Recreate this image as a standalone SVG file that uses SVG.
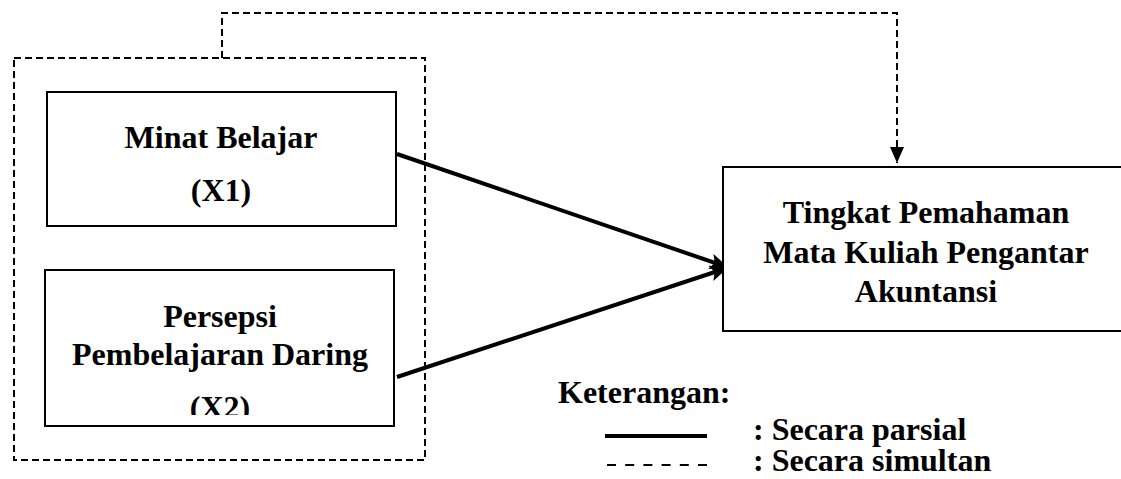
<svg xmlns="http://www.w3.org/2000/svg" width="1121" height="479" viewBox="0 0 1121 479">
<style>
.t{font-family:"Liberation Serif","Times New Roman",serif;font-weight:bold;font-size:32px;fill:#000}
.m{text-anchor:middle}
.box{fill:#fff;stroke:#000;stroke-width:2}
.dash{fill:none;stroke:#000;stroke-width:2;stroke-dasharray:7 4}
.solid{fill:none;stroke:#000;stroke-width:4}
</style>
<defs>
<marker id="ah" markerUnits="userSpaceOnUse" markerWidth="18" markerHeight="16" refX="17" refY="8" orient="auto"><path d="M0,0 L18,8 L0,16 L4,8 z" fill="#000"/></marker>
<marker id="ahd" markerUnits="userSpaceOnUse" markerWidth="16" markerHeight="14" refX="16" refY="7" orient="auto"><path d="M0,0 L16,7 L0,14 z" fill="#000"/></marker>
<clipPath id="clipx2"><rect x="45" y="270" width="349" height="145"/></clipPath>
</defs>
<g id="group-simultan">
<rect x="14" y="58" width="411" height="402" class="dash"/>
</g>
<g id="connectors">
<path d="M222,58 V13 H897 V163" class="dash" marker-end="url(#ahd)"/>
<line x1="397" y1="154" x2="727" y2="267" class="solid" marker-end="url(#ah)"/>
<line x1="397" y1="377" x2="727" y2="268" class="solid" marker-end="url(#ah)"/>
</g>
<g id="node-x1">
<rect x="47" y="92" width="349" height="134" class="box"/>
<text class="t m" x="221" y="148">Minat Belajar</text>
<text class="t m" x="221" y="201">(X1)</text>
</g>
<g id="node-x2">
<rect x="45" y="270" width="349" height="156" class="box"/>
<text class="t m" x="220" y="327">Persepsi</text>
<text class="t m" x="220" y="365">Pembelajaran Daring</text>
<text class="t m" x="220" y="418" clip-path="url(#clipx2)">(X2)</text>
</g>
<g id="node-y">
<rect x="723" y="167" width="420" height="164" class="box"/>
<text class="t m" x="926" y="223">Tingkat Pemahaman</text>
<text class="t m" x="926" y="263">Mata Kuliah Pengantar</text>
<text class="t m" x="926" y="302">Akuntansi</text>
</g>
<g id="legend">
<text class="t" x="558" y="403">Keterangan:</text>
<line x1="605" y1="436" x2="707" y2="436" stroke="#000" stroke-width="4"/>
<text class="t" x="753" y="440">: Secara parsial</text>
<line x1="607" y1="465" x2="707" y2="465" stroke="#000" stroke-width="2" stroke-dasharray="9 9.2"/>
<text class="t" x="753" y="471">: Secara simultan</text>
</g>
</svg>
